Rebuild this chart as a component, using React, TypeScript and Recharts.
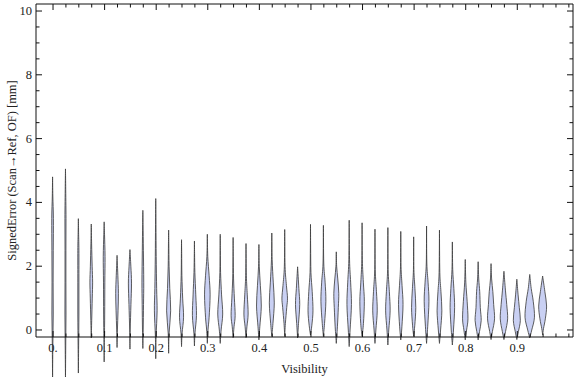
import React from 'react';
import { ComposedChart, Bar, XAxis, YAxis } from 'recharts';

// visibility bins (x position of each violin)
const visibility = [
  0, 0.025, 0.05, 0.075, 0.1, 0.125, 0.15, 0.175, 0.2, 0.225,
  0.25, 0.275, 0.3, 0.325, 0.35, 0.375, 0.4, 0.425, 0.45, 0.475,
  0.5, 0.525, 0.55, 0.575, 0.6, 0.625, 0.65, 0.675, 0.7, 0.725,
  0.75, 0.775, 0.8, 0.825, 0.85, 0.875, 0.9, 0.925, 0.95,
];

// min / max signed error per bin [mm]
const lows = [
  -1.5, -1.5, -1.35, -0.25, -1.0, -0.55, -0.6, -0.58, -0.9, -0.73,
  -0.52, -0.5, -0.42, -0.42, -0.24, -0.24, -0.31, -0.2, -0.2, -0.25,
  -0.16, -0.2, -0.42, -0.52, -0.2, -0.42, -0.47, -0.31, -0.2, -0.42,
  -0.42, -0.47, -0.31, -0.31, -0.3, -0.3, -0.3, -0.25, -0.15,
];
const highs = [
  4.8, 5.05, 3.49, 3.32, 3.39, 2.34, 2.52, 3.75, 4.12, 3.13,
  2.83, 2.79, 3.0, 3.0, 2.9, 2.71, 2.68, 3.04, 3.15, 1.98,
  3.31, 3.28, 2.45, 3.44, 3.36, 3.16, 3.21, 3.09, 2.92, 3.26,
  3.13, 2.76, 2.21, 2.14, 2.08, 1.84, 1.59, 1.74, 1.69,
];

// density knots between min and max: [error, relative density]
const densities: number[][][] = [
  [[-0.5, 0.06], [0.5, 0.15], [1.5, 0.12], [2.5, 0.15], [3.5, 0.18], [4.2, 0.06]],
  [[-0.5, 0.06], [0.5, 0.12], [1.5, 0.1], [2.5, 0.1], [3.5, 0.12], [4.5, 0.05]],
  [[-0.5, 0.06], [0.5, 0.12], [1.5, 0.12], [2.5, 0.12], [3.0, 0.06]],
  [[0.3, 0.1], [1.0, 0.22], [1.5, 0.3], [2.0, 0.2], [2.7, 0.08]],
  [[-0.3, 0.06], [0.5, 0.12], [1.5, 0.15], [2.3, 0.2], [3.0, 0.08]],
  [[0.0, 0.08], [0.6, 0.22], [1.15, 0.3], [1.7, 0.18], [2.1, 0.06]],
  [[0.0, 0.06], [0.8, 0.22], [1.47, 0.35], [2.0, 0.2]],
  [[0.0, 0.08], [0.8, 0.15], [1.5, 0.2], [2.5, 0.12], [3.3, 0.05]],
  [[-0.2, 0.08], [0.6, 0.3], [1.3, 0.2], [2.3, 0.1], [3.3, 0.05]],
  [[-0.1, 0.1], [0.6, 0.45], [1.3, 0.25], [2.0, 0.1], [2.7, 0.04]],
  [[-0.1, 0.12], [0.4, 0.45], [1.0, 0.25], [1.7, 0.08], [2.4, 0.03]],
  [[-0.1, 0.12], [0.45, 0.45], [1.1, 0.3], [1.8, 0.1], [2.4, 0.03]],
  [[0.0, 0.15], [0.4, 0.4], [1.1, 0.62], [1.7, 0.4], [2.3, 0.1]],
  [[0.0, 0.2], [0.5, 0.55], [1.1, 0.3], [1.8, 0.08], [2.5, 0.03]],
  [[0.1, 0.2], [0.45, 0.45], [1.0, 0.28], [1.6, 0.1], [2.3, 0.03]],
  [[0.1, 0.2], [0.5, 0.47], [1.1, 0.28], [1.7, 0.08]],
  [[0.1, 0.2], [0.75, 0.53], [1.4, 0.32], [2.0, 0.08]],
  [[0.2, 0.25], [0.85, 0.55], [1.5, 0.32], [2.2, 0.08]],
  [[0.2, 0.15], [0.7, 0.45], [1.0, 0.62], [1.4, 0.38], [2.0, 0.08]],
  [[0.2, 0.2], [0.8, 0.47], [1.3, 0.28]],
  [[0.15, 0.3], [0.6, 0.55], [1.2, 0.38], [1.8, 0.1], [2.6, 0.03]],
  [[0.2, 0.25], [0.9, 0.55], [1.5, 0.38], [2.1, 0.08]],
  [[0.1, 0.25], [0.7, 0.45], [1.15, 0.55], [1.6, 0.33], [2.0, 0.08]],
  [[0.0, 0.2], [0.8, 0.5], [1.5, 0.32], [2.2, 0.08]],
  [[0.2, 0.3], [0.9, 0.5], [1.5, 0.28], [2.2, 0.06]],
  [[0.0, 0.2], [0.6, 0.5], [1.2, 0.33], [1.9, 0.06]],
  [[0.0, 0.2], [0.6, 0.5], [1.2, 0.33], [1.9, 0.06]],
  [[0.1, 0.25], [0.8, 0.5], [1.4, 0.28], [2.0, 0.06]],
  [[0.15, 0.25], [0.7, 0.47], [1.3, 0.28], [1.9, 0.05]],
  [[0.1, 0.25], [0.9, 0.53], [1.5, 0.33], [2.1, 0.06]],
  [[0.0, 0.25], [0.6, 0.53], [1.2, 0.33], [1.8, 0.08]],
  [[0.0, 0.25], [0.7, 0.5], [1.3, 0.33], [1.9, 0.08]],
  [[0.0, 0.3], [0.35, 0.6], [0.9, 0.42], [1.5, 0.13]],
  [[-0.05, 0.3], [0.3, 0.68], [0.7, 0.48], [1.2, 0.35], [1.6, 0.13]],
  [[-0.05, 0.3], [0.35, 0.78], [0.8, 0.58], [1.2, 0.4], [1.6, 0.13]],
  [[-0.05, 0.35], [0.35, 0.82], [0.8, 0.62], [1.25, 0.33]],
  [[-0.05, 0.35], [0.3, 0.78], [0.7, 0.55], [1.1, 0.28]],
  [[0.0, 0.45], [0.4, 1.05], [0.9, 0.78], [1.3, 0.33]],
  [[0.05, 0.2], [0.35, 0.6], [0.75, 0.88], [1.2, 0.5]],
];

const xMajorTicks = [0, 0.1, 0.2, 0.3, 0.4, 0.5, 0.6, 0.7, 0.8, 0.9];
const xTickLabels = ['0.', '0.1', '0.2', '0.3', '0.4', '0.5', '0.6', '0.7', '0.8', '0.9'];
const yMajorTicks = [0, 2, 4, 6, 8, 10];
const yTickLabels = ['0', '2', '4', '6', '8', '10'];

const xMinorTicks = Array.from({ length: 41 }, (_, i) => i * 0.025);
const yMinorTicks = Array.from({ length: 21 }, (_, i) => i * 0.5);

const X_DOMAIN = [-0.033, 1.008];
const Y_DOMAIN = [-0.22, 10.22];

const data = visibility.map((v, i) => ({
  vis: v,
  lo: lows[i],
  hi: highs[i],
  knots: densities[i],
}));

const HALF_WIDTH = 4.5;
const FRAME = '#111';
const FONT = { fontFamily: '"Liberation Serif", "DejaVu Serif", serif', fontSize: 12.5, fill: '#222' };

const majorIndex = (list: number[], v: number) => list.findIndex(m => Math.abs(m - v) < 1e-6);

function smooth(pts: number[][], start: boolean) {
  let d = start ? `M${pts[0][0]},${pts[0][1]}` : '';
  for (let i = 0; i < pts.length - 1; i++) {
    const p0 = pts[i - 1] || pts[i];
    const p1 = pts[i];
    const p2 = pts[i + 1];
    const p3 = pts[i + 2] || p2;
    const c1x = p1[0] + (p2[0] - p0[0]) / 6;
    const c1y = p1[1] + (p2[1] - p0[1]) / 6;
    const c2x = p2[0] - (p3[0] - p1[0]) / 6;
    const c2y = p2[1] - (p3[1] - p1[1]) / 6;
    d += ` C${c1x},${c1y} ${c2x},${c2y} ${p2[0]},${p2[1]}`;
  }
  return d;
}

const Violin = (props: any) => {
  const { x, y, width, height, payload } = props;
  if (!payload || !height) return null;
  const cx = x + width / 2;
  const { lo, hi, knots } = payload;
  // bar spans [0, hi]; map any value linearly through that span
  const py = (v: number) => y + (height * (hi - v)) / hi;
  const pts = [[lo, 0], ...knots, [hi, 0]];
  const right = pts.map(([v, w]: number[]) => [cx + w * HALF_WIDTH, py(v)]);
  const left = pts
    .slice()
    .reverse()
    .map(([v, w]: number[]) => [cx - w * HALF_WIDTH, py(v)]);
  const d = smooth(right, true) + smooth(left, false) + ' Z';
  return <path d={d} fill="#c9d0f3" stroke="#3a3a3a" strokeWidth={0.9} strokeOpacity={0.9} />;
};

const Empty = () => <g />;

const BottomTick = ({ x, y, payload }: any) => {
  const idx = majorIndex(xMajorTicks, payload.value);
  return (
    <g>
      <line x1={x} x2={x} y1={y} y2={y - (idx >= 0 ? 6 : 3.5)} stroke={FRAME} />
      {idx >= 0 && (
        <text x={x} y={y + 15} textAnchor="middle" style={FONT}>
          {xTickLabels[idx]}
        </text>
      )}
    </g>
  );
};

const TopTick = ({ x, y, payload }: any) => {
  const idx = majorIndex(xMajorTicks, payload.value);
  return <line x1={x} x2={x} y1={y} y2={y + (idx >= 0 ? 6 : 3.5)} stroke={FRAME} />;
};

const LeftTick = ({ x, y, payload }: any) => {
  const idx = majorIndex(yMajorTicks, payload.value);
  return (
    <g>
      <line x1={x} x2={x + (idx >= 0 ? 6 : 3.5)} y1={y} y2={y} stroke={FRAME} />
      {idx >= 0 && (
        <text x={x - 4} y={y + 4} textAnchor="end" style={FONT}>
          {yTickLabels[idx]}
        </text>
      )}
    </g>
  );
};

const RightTick = ({ x, y, payload }: any) => {
  const idx = majorIndex(yMajorTicks, payload.value);
  return <line x1={x} x2={x - (idx >= 0 ? 6 : 3.5)} y1={y} y2={y} stroke={FRAME} />;
};

export default function App() {
  return (
    <div style={{ position: 'absolute', left: 0, top: 0, width: 576, height: 377, background: '#fff' }}>
      <ComposedChart width={576} height={377} data={data} margin={{ top: 3, right: 2, bottom: 0, left: 0 }}>
        <XAxis
          xAxisId="b"
          dataKey="vis"
          type="number"
          domain={X_DOMAIN}
          allowDataOverflow
          ticks={xMinorTicks}
          interval={0}
          height={40}
          tickSize={0}
          tickMargin={0}
          tickLine={false}
          axisLine={{ stroke: FRAME }}
          tick={<BottomTick />}
          label={{ value: 'Visibility', position: 'insideBottom', offset: 4, style: FONT }}
        />
        <XAxis
          xAxisId="t"
          dataKey="vis"
          orientation="top"
          type="number"
          domain={X_DOMAIN}
          allowDataOverflow
          ticks={xMinorTicks}
          interval={0}
          height={1}
          tickSize={0}
          tickMargin={0}
          tickLine={false}
          axisLine={{ stroke: FRAME }}
          tick={<TopTick />}
        />
        <YAxis
          yAxisId="l"
          type="number"
          domain={Y_DOMAIN}
          ticks={yMinorTicks}
          interval={0}
          width={36}
          tickSize={0}
          tickMargin={0}
          tickLine={false}
          axisLine={{ stroke: FRAME }}
          tick={<LeftTick />}
          label={{
            value: 'SignedError (Scan\u2192Ref, OF) [mm]',
            angle: -90,
            position: 'insideLeft',
            offset: 12,
            style: { ...FONT, textAnchor: 'middle' },
          }}
        />
        <YAxis
          yAxisId="r"
          orientation="right"
          type="number"
          domain={Y_DOMAIN}
          ticks={yMinorTicks}
          interval={0}
          width={1}
          tickSize={0}
          tickMargin={0}
          tickLine={false}
          axisLine={{ stroke: FRAME }}
          tick={<RightTick />}
        />
        <Bar
          xAxisId="b"
          yAxisId="l"
          dataKey={(d: any) => [0, d.hi]}
          barSize={2}
          shape={<Violin />}
          isAnimationActive={false}
        />
        {/* zero-height series so the top/right frame axes get scales */}
        <Bar
          xAxisId="t"
          yAxisId="r"
          dataKey={() => [0, 0]}
          barSize={1}
          shape={<Empty />}
          isAnimationActive={false}
        />
      </ComposedChart>
    </div>
  );
}
